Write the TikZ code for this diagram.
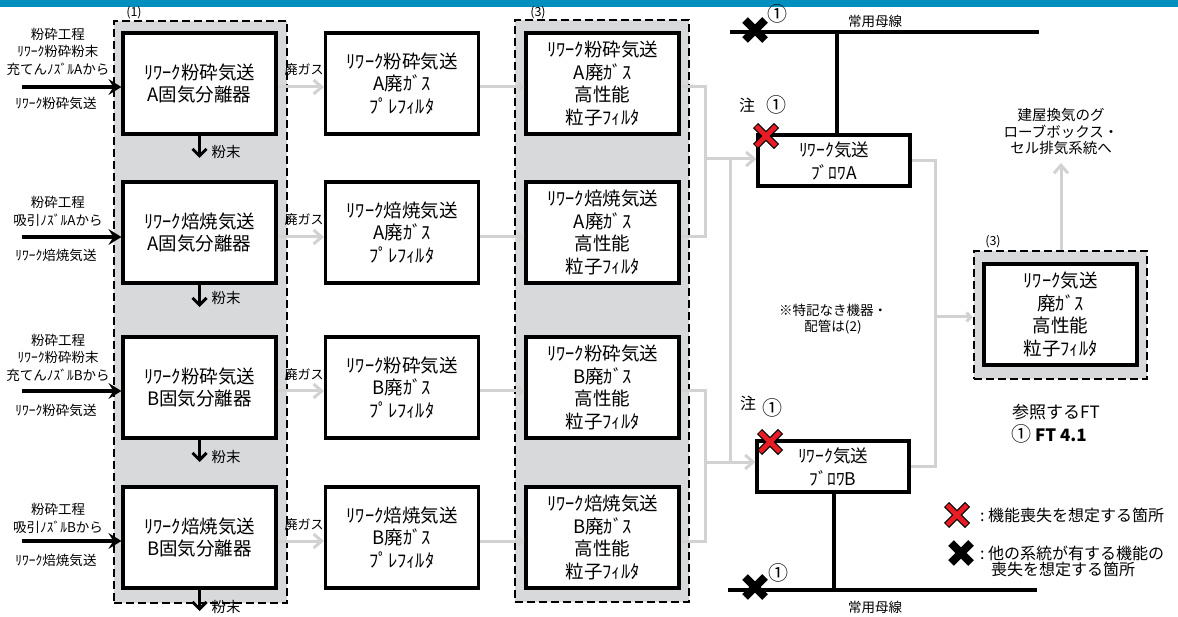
\documentclass[tikz,border=0pt]{standalone}
\usepackage{fontspec}
\setmainfont{Noto Sans CJK JP}
\usetikzlibrary{arrows.meta}
\definecolor{barblue}{RGB}{0,143,190}
\definecolor{grpgray}{RGB}{216,217,219}
\definecolor{lgray}{RGB}{210,210,210}
\definecolor{xred}{RGB}{232,28,36}
\tikzset{
  box/.style={draw=black, line width=3.2pt, fill=white, minimum width=153pt, minimum height=101pt, inner sep=0pt, align=center, font=\fontsize{18.5}{22.5}\selectfont},
  blower/.style={draw=black, line width=3.2pt, fill=white, minimum width=152pt, minimum height=51pt, inner sep=0pt, align=center, font=\fontsize{17.5}{23}\selectfont},
  grp/.style={draw=black, line width=2.8pt, dash pattern=on 8pt off 4pt, fill=grpgray, inner sep=0pt},
  gline/.style={draw=lgray, line width=3pt},
  garrow/.style={gline, -{Straight Barb[length=8pt,width=14pt]}},
  gsmall/.style={gline, -{Straight Barb[length=4pt,width=9pt]}},
  inarrow/.style={draw=black, line width=3.5pt, -{Stealth[length=13pt,width=16pt,inset=5pt]}},
  parrow/.style={draw=black, line width=3pt, -{Straight Barb[length=7pt,width=14pt]}},
  bus/.style={draw=black, line width=4.5pt},
  lbl/.style={inner sep=0pt, align=center, font=\fontsize{13.5}{17.5}\selectfont},
  plbl/.style={inner sep=0pt, font=\fontsize{14.5}{16}\selectfont},
  glbl/.style={inner sep=0pt, font=\fontsize{13}{14}\selectfont},
  tlbl/.style={inner sep=0pt, font=\fontsize{12.5}{14}\selectfont},
  mlbl/.style={inner sep=0pt, align=center, font=\fontsize{16}{16}\selectfont},
  clbl/.style={inner sep=0pt, font=\fontsize{20}{20}\selectfont},
  blackx/.pic={\draw[line width=8pt] (-10,-10)--(10,10) (-10,10)--(10,-10);},
  redx/.pic={\draw[line width=7.2pt] (-10.5,-10.5)--(10.5,10.5) (-10.5,10.5)--(10.5,-10.5);
             \draw[line width=4.8pt, xred] (-9.8,-9.8)--(9.8,9.8) (-9.8,9.8)--(9.8,-9.8);}
}
\begin{document}
\begin{tikzpicture}[x=1pt,y=-1pt]
\useasboundingbox (0,0) rectangle (1178,617);
\fill[barblue] (0,0) rectangle (1178,7);

% groups
\node[grp, minimum width=173pt, minimum height=582pt] (g1) at (200.5,312) {};
\node[grp, minimum width=174pt, minimum height=582pt] (g3) at (602,311) {};
\node[grp, minimum width=173pt, minimum height=128pt] (gf) at (1060.5,315) {};
\node[tlbl] (g1l) at (134,13) {(1)};
\node[tlbl] (g3l) at (538,13) {(3)};
\node[tlbl] (gfl) at (993,242) {(3)};

% line coordinates
\coordinate (s1) at (22,87);
\coordinate (s2) at (22,237);
\coordinate (s3) at (22,391);
\coordinate (s4) at (22,541);

% separators
\node[box] (sep1) at (199.5,83.5) {ﾘﾜｰｸ粉砕気送\\A固気分離器};
\node[box] (sep2) at (199.5,232.5) {ﾘﾜｰｸ焙焼気送\\A固気分離器};
\node[box] (sep3) at (199.5,387.5) {ﾘﾜｰｸ粉砕気送\\B固気分離器};
\node[box] (sep4) at (199.5,537.5) {ﾘﾜｰｸ焙焼気送\\B固気分離器};
% prefilters
\node[box] (pre1) at (402,83.5) {ﾘﾜｰｸ粉砕気送\\A廃ｶﾞｽ\\ﾌﾟﾚﾌｨﾙﾀ};
\node[box] (pre2) at (402,232.5) {ﾘﾜｰｸ焙焼気送\\A廃ｶﾞｽ\\ﾌﾟﾚﾌｨﾙﾀ};
\node[box] (pre3) at (402,387.5) {ﾘﾜｰｸ粉砕気送\\B廃ｶﾞｽ\\ﾌﾟﾚﾌｨﾙﾀ};
\node[box] (pre4) at (402,537.5) {ﾘﾜｰｸ焙焼気送\\B廃ｶﾞｽ\\ﾌﾟﾚﾌｨﾙﾀ};
% HEPA
\node[box] (hep1) at (602.5,83.5) {ﾘﾜｰｸ粉砕気送\\A廃ｶﾞｽ\\高性能\\粒子ﾌｨﾙﾀ};
\node[box] (hep2) at (602.5,232.5) {ﾘﾜｰｸ焙焼気送\\A廃ｶﾞｽ\\高性能\\粒子ﾌｨﾙﾀ};
\node[box] (hep3) at (602.5,387.5) {ﾘﾜｰｸ粉砕気送\\B廃ｶﾞｽ\\高性能\\粒子ﾌｨﾙﾀ};
\node[box] (hep4) at (602.5,537.5) {ﾘﾜｰｸ焙焼気送\\B廃ｶﾞｽ\\高性能\\粒子ﾌｨﾙﾀ};
% final HEPA
\node[box] (hepf) at (1060.5,314.5) {ﾘﾜｰｸ気送\\廃ｶﾞｽ\\高性能\\粒子ﾌｨﾙﾀ};
% blowers
\node[blower] (blA) at (834,160.5) {ﾘﾜｰｸ気送\\ﾌﾞﾛﾜA};
\node[blower] (blB) at (833,466.5) {ﾘﾜｰｸ気送\\ﾌﾞﾛﾜB};

% input arrows
\draw[inarrow] (s1) -- (sep1.west |- s1);
\draw[inarrow] (s2) -- (sep2.west |- s2);
\draw[inarrow] (s3) -- (sep3.west |- s3);
\draw[inarrow] (s4) -- (sep4.west |- s4);
\node[lbl] (l1) at (58,51.5) {粉砕工程\\ﾘﾜｰｸ粉砕粉末\\充てんﾉｽﾞﾙAから};
\node[lbl] (l1b) at (56,103) {ﾘﾜｰｸ粉砕気送};
\node[lbl] (l2) at (58,211.5) {粉砕工程\\吸引ﾉｽﾞﾙAから};
\node[lbl] (l2b) at (56,255) {ﾘﾜｰｸ焙焼気送};
\node[lbl] (l3) at (58,357.5) {粉砕工程\\ﾘﾜｰｸ粉砕粉末\\充てんﾉｽﾞﾙBから};
\node[lbl] (l3b) at (56,410) {ﾘﾜｰｸ粉砕気送};
\node[lbl] (l4) at (58,518.5) {粉砕工程\\吸引ﾉｽﾞﾙBから};
\node[lbl] (l4b) at (56,560) {ﾘﾜｰｸ焙焼気送};

% powder arrows
\coordinate (p1) at (199.5,158);
\coordinate (p2) at (199.5,307);
\coordinate (p3) at (199.5,462);
\coordinate (p4) at (199.5,611);
\draw[parrow] (sep1.south) -- (p1);
\draw[parrow] (sep2.south) -- (p2);
\draw[parrow] (sep3.south) -- (p3);
\draw[parrow] (sep4.south) -- (p4);
\node[plbl] (pl1) at (226,152) {粉末};
\node[plbl] (pl2) at (226,298) {粉末};
\node[plbl] (pl3) at (226,457) {粉末};
\node[plbl] (pl4) at (226,607) {粉末};

% waste gas lines
\draw[garrow] (sep1.east |- s1) -- (pre1.west |- s1);
\draw[garrow] (sep2.east |- s2) -- (pre2.west |- s2);
\draw[garrow] (sep3.east |- s3) -- (pre3.west |- s3);
\draw[garrow] (sep4.east |- s4) -- (pre4.west |- s4);
\node[glbl] (w1) at (304,70) {廃ガス};
\node[glbl] (w2) at (304,220) {廃ガス};
\node[glbl] (w3) at (304,375) {廃ガス};
\node[glbl] (w4) at (304,525) {廃ガス};

\draw[gsmall] (pre1.east |- s1) -- (hep1.west |- s1);
\draw[gsmall] (pre2.east |- s2) -- (hep2.west |- s2);
\draw[gsmall] (pre3.east |- s3) -- (hep3.west |- s3);
\draw[gsmall] (pre4.east |- s4) -- (hep4.west |- s4);

% HEPA outputs to blowers
\coordinate (ja) at (705,159);
\coordinate (jb) at (705,462);
\coordinate (ka) at (730,159);
\coordinate (kb) at (730,462);
\draw[gline] (hep1.east |- s1) -- (ja |- s1) -- (ja |- s2) -- (hep2.east |- s2);
\draw[gline] (hep3.east |- s3) -- (jb |- s3) -- (jb |- s4) -- (hep4.east |- s4);
\draw[garrow] (ja) -- (blA.west |- ja);
\draw[garrow] (jb) -- (blB.west |- jb);
\draw[gline] (ka) -- (kb);

% blower outputs
\coordinate (m) at (935,317);
\draw[gline] (blA.east) -- (m |- blA.east) -- (m |- blB.east) -- (blB.east);
\draw[gsmall] (m) -- (gf.west |- m);
\coordinate (up) at (1061,163);
\draw[garrow] (gf.north -| up) -- (up);
\node[inner sep=0pt, align=center, font=\fontsize{14.5}{16.5}\selectfont] (bld) at (1061,132) {建屋換気のグ\\ローブボックス・\\セル排気系統へ};

% buses
\coordinate (bAl) at (730,32);
\coordinate (bAr) at (1039,32);
\coordinate (tA) at (837,32);
\coordinate (bBl) at (728,590);
\coordinate (bBr) at (1037,590);
\coordinate (tB) at (834,590);
\draw[bus] (bAl) -- (bAr);
\draw[bus] (tA) -- (tA |- blA.north);
\draw[bus] (bBl) -- (bBr);
\draw[bus] (tB |- blB.south) -- (tB);
\node[tlbl, font=\fontsize{13.5}{14}\selectfont] (busa) at (875,21) {常用母線};
\node[tlbl, font=\fontsize{13.5}{14}\selectfont] (busb) at (875,607) {常用母線};
\pic at (755,30) {blackx};
\pic at (755,587) {blackx};
\node[clbl] (c1) at (777,14) {①};
\node[clbl] (c2) at (778,573) {①};

% notes
\node[mlbl] (n1) at (747,105) {注};
\node[clbl] (n1c) at (776,105) {①};
\node[mlbl] (n2) at (748,403) {注};
\node[clbl] (n2c) at (772,408) {①};
\pic at (766,136) {redx};
\pic at (770,442) {redx};
\node[inner sep=0pt, align=center, font=\fontsize{13.5}{16}\selectfont] (note) at (833,319) {※特記なき機器・\\配管は(2)};

% reference FT
\node[inner sep=0pt, anchor=west, font=\fontsize{17}{18}\selectfont] (ft1) at (1012,412) {参照するFT};
\node[inner sep=0pt, anchor=west, font=\fontsize{17}{18}\selectfont] (ft2) at (1011,434) {{\fontsize{20}{20}\selectfont ①}\ \textbf{FT 4.1}};

% legend
\pic at (957,515) {redx};
\pic at (961,553) {blackx};
\node[inner sep=0pt, anchor=west, font=\fontsize{16}{17}\selectfont] (lg1) at (980,515) {:\ 機能喪失を想定する箇所};
\node[inner sep=0pt, anchor=west, font=\fontsize{16}{17}\selectfont] (lg2) at (980,553) {:\ 他の系統が有する機能の};
\node[inner sep=0pt, anchor=west, font=\fontsize{16}{17}\selectfont] (lg3) at (991,569) {喪失を想定する箇所};
\end{tikzpicture}
\end{document}
